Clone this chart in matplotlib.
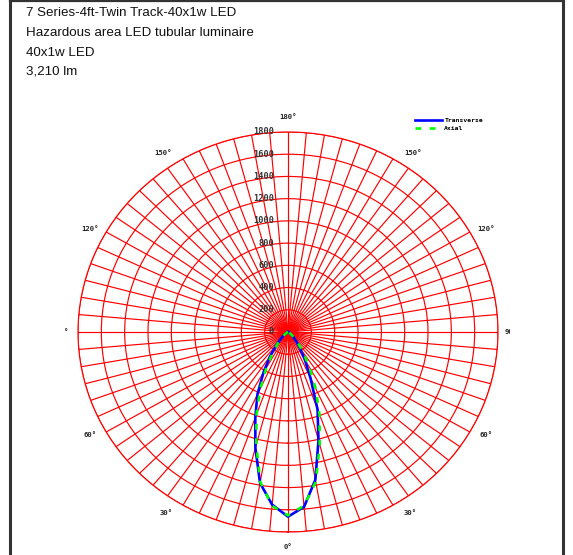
import numpy as np
import matplotlib
matplotlib.use('Agg')
import matplotlib.pyplot as plt
from matplotlib.lines import Line2D
from matplotlib.transforms import offset_copy, Bbox

# --- Data ---
title_lines = ['7 Series-4ft-Twin Track-40x1w LED',
               'Hazardous area LED tubular luminaire',
               '40x1w LED',
               '3,210 lm']

angles = [0, 5, 10, 15, 20, 25, 30, 35, 40, 45, 50, 55, 60, 65, 70, 75, 80, 85, 90]
# transverse plane, left half and right half (cd)
transverse_left = [1662, 1560, 1380, 1080, 820, 620, 420, 270, 160, 90, 50, 25, 12, 6, 3, 1, 0, 0, 0]
transverse_right = [1662, 1580, 1350, 1010, 740, 455, 290, 180, 110, 65, 35, 18, 8, 4, 2, 1, 0, 0, 0]
# axial plane (symmetric)
axial = [1650, 1570, 1370, 1050, 790, 560, 370, 230, 140, 80, 45, 22, 10, 5, 2, 1, 0, 0, 0]

ring_values = [0, 200, 400, 600, 800, 1000, 1200, 1400, 1600, 1800]
angle_labels = ['0°', '30°', '60°', '120°', '150°', '180°']

W, H = 573, 555
fig = plt.figure(figsize=(W / 100, H / 100), dpi=100)

# polar axes; the reference grid is a bit wider than tall
cx, cy, rx, ry = 288, 332, 210, 200
ax = fig.add_axes([(cx - rx) / W, (H - cy - ry) / H, 2 * rx / W, 2 * ry / H],
                  projection='polar')
ax.set_aspect('auto')
ax.set_theta_zero_location('S')
ax.set_ylim(0, 1800)
ax.set_rgrids(ring_values[1:], labels=[''] * 9)
ax.set_thetagrids(np.arange(0, 360, 5), labels=[''] * 72)
ax.grid(True, color='#ff0000', linewidth=0.85)
ax.spines['polar'].set_color('#ff0000')
ax.spines['polar'].set_linewidth(0.85)
ax.tick_params(length=0)

# curves
a = np.array(angles)
th_t = np.deg2rad(np.concatenate([-a[::-1], a[1:]]))
r_t = np.concatenate([transverse_left[::-1], transverse_right[1:]])
th_a = np.deg2rad(np.concatenate([-a[::-1], a[1:]]))
r_a = np.concatenate([axial[::-1], axial[1:]])
ax.plot(th_t, r_t, color='#0000ff', linewidth=1.9, label='Transverse', zorder=5)
ax.plot(th_a, r_a, color='#00ff00', linewidth=1.9, linestyle=(0, (2.2, 3.2)),
        label='Axial', zorder=6)

# radial value labels along the vertical axis
mono = 'DejaVu Sans Mono'
lab_tr = offset_copy(ax.transData, fig=fig, x=-14, y=0, units='dots')
for v in ring_values:
    ax.text(np.pi, v, str(v), transform=lab_tr, ha='right', va='center',
            fontsize=6.2, family=mono, fontweight='bold', color='#333333', zorder=7)

# angle labels around the outside
label_angles = [0, 32.7, 61.5, 118.5, 146.4, 180]
for lab, ang in zip(angle_labels, label_angles):
    for sgn in ([1] if ang in (0, 180) else [1, -1]):
        ax.text(np.deg2rad(sgn * ang), 1935, lab, ha='center', va='center',
                fontsize=5.2, family=mono, fontweight='bold', color='#222222',
                clip_on=False)
ax.text(np.deg2rad(-90), 1905, '°', ha='center', va='center', fontsize=5.2,
        family=mono, fontweight='bold', color='#222222', clip_on=False)
t90 = ax.text(np.deg2rad(90), 1860, '90', ha='left', va='center', fontsize=5.2,
              family=mono, fontweight='bold', color='#222222')
t90.set_clip_box(Bbox.from_extents(0, 0, 509.5, H))
t90.set_clip_on(True)

# legend
fig.legend(loc='upper left', bbox_to_anchor=(415 / W, 1 - 118 / H), frameon=False,
           prop={'family': mono, 'size': 4.6, 'weight': 'bold'},
           handlelength=4.2, handletextpad=0.4, labelspacing=0.35,
           borderpad=0, borderaxespad=0)

# header text
for i, line in enumerate(title_lines):
    fig.text(26 / W, 1 - (13.5 + i * 19.5) / H, line, ha='left', va='center',
             fontsize=9.6, family=['Liberation Sans', 'DejaVu Sans'],
             color='#111111')

# frame
frame_c = '#333333'
fig.add_artist(Line2D([9.5 / W, 9.5 / W], [0, 1], color=frame_c, linewidth=2.2,
                      transform=fig.transFigure))
fig.add_artist(Line2D([563 / W, 563 / W], [0, 1], color=frame_c, linewidth=2.2,
                      transform=fig.transFigure))
fig.add_artist(Line2D([9.5 / W, 563 / W], [1 - 0.8 / H, 1 - 0.8 / H], color=frame_c,
                      linewidth=1.6, transform=fig.transFigure))

fig.savefig('out.png', dpi=100)
